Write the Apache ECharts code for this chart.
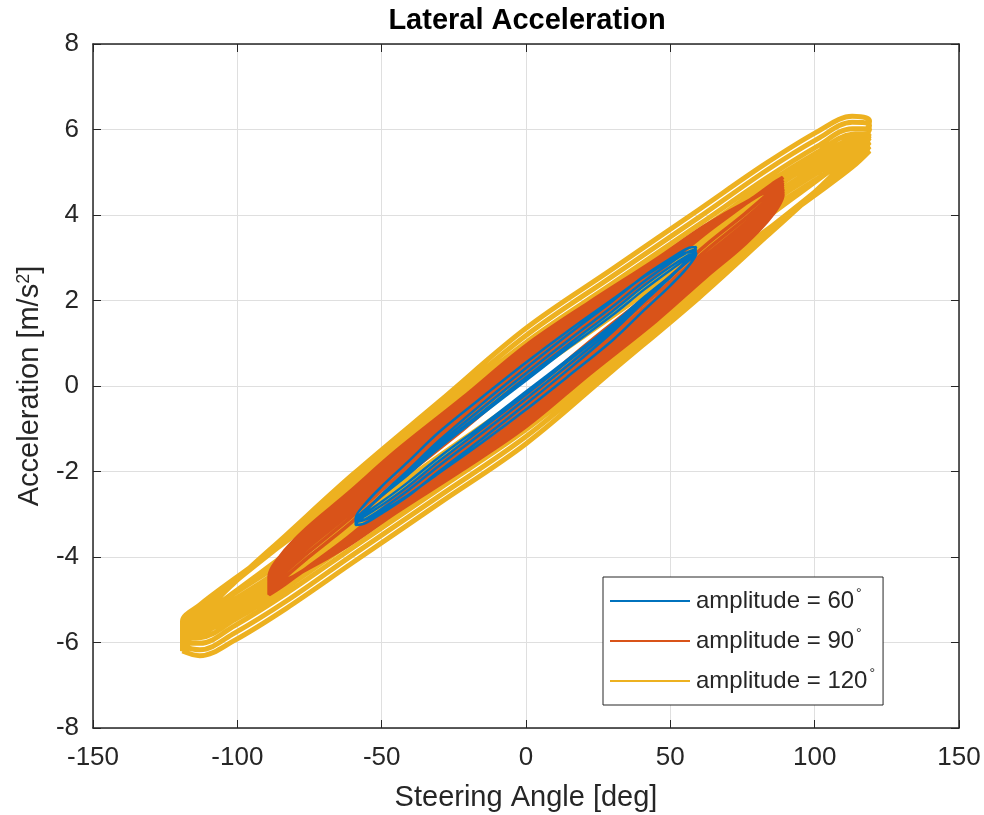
<!DOCTYPE html>
<html>
<head>
<meta charset="utf-8">
<script src="https://cdn.jsdelivr.net/npm/echarts@6/dist/echarts.min.js"></script>
<style>
html,body{margin:0;padding:0;background:#fff;}
#chart{width:984px;height:815px;}
</style>
</head>
<body>
<div id="chart"></div>
<script>
// ---- data ----
const seriesNames = ['amplitude = 60', 'amplitude = 90', 'amplitude = 120'];
const seriesColors = ['#0072BD', '#D95319', '#EDB120'];

// amplitude 120: steering positions and accel of each loop (upper / lower branch)
const amp120X = [-119, -113, -101, -83, -60, -30, 0, 30, 60, 83, 101, 113, 119];
const amp120Upper = [
  [-6.2, -5.47, -4.59, -3.48, -2.07, -0.36, 1.35, 2.74, 4.13, 5.20, 5.95, 6.31, 6.2],
  [-6.1, -5.43, -4.60, -3.51, -2.15, -0.49, 1.18, 2.57, 3.95, 5.03, 5.78, 6.17, 6.1],
  [-6.0, -5.38, -4.59, -3.55, -2.22, -0.60, 1.02, 2.40, 3.78, 4.85, 5.61, 6.02, 6.0],
  [-5.9, -5.33, -4.57, -3.55, -2.27, -0.69, 0.9, 2.27, 3.63, 4.71, 5.47, 5.89, 5.9],
  [-5.85, -5.32, -4.58, -3.60, -2.34, -0.77, 0.78, 2.15, 3.52, 4.60, 5.36, 5.80, 5.85],
  [-5.8, -5.30, -4.59, -3.62, -2.38, -0.85, 0.68, 2.05, 3.42, 4.50, 5.27, 5.72, 5.8],
  [-5.7, -5.24, -4.56, -3.62, -2.41, -0.92, 0.58, 1.94, 3.29, 4.36, 5.14, 5.60, 5.7],
  [-5.6, -5.18, -4.53, -3.63, -2.45, -1.00, 0.46, 1.80, 3.15, 4.21, 4.99, 5.46, 5.6],
  [-5.5, -5.12, -4.51, -3.63, -2.49, -1.08, 0.34, 1.68, 3.01, 4.07, 4.85, 5.34, 5.5],
  [-5.8, -5.44, -4.82, -3.92, -2.73, -1.26, 0.22, 1.64, 3.07, 4.20, 5.04, 5.58, 5.8]
];
const amp120Lower = [
  [-6.2, -6.31, -5.95, -5.20, -4.13, -2.74, -1.35, 0.36, 2.07, 3.48, 4.59, 5.47, 6.2],
  [-6.1, -6.17, -5.78, -5.03, -3.95, -2.57, -1.18, 0.49, 2.15, 3.51, 4.60, 5.43, 6.1],
  [-6.0, -6.02, -5.61, -4.85, -3.78, -2.40, -1.02, 0.60, 2.22, 3.55, 4.59, 5.38, 6.0],
  [-5.9, -5.89, -5.47, -4.71, -3.63, -2.27, -0.9, 0.69, 2.27, 3.55, 4.57, 5.33, 5.9],
  [-5.85, -5.80, -5.36, -4.60, -3.52, -2.15, -0.78, 0.77, 2.34, 3.60, 4.58, 5.32, 5.85],
  [-5.8, -5.72, -5.27, -4.50, -3.42, -2.05, -0.68, 0.85, 2.38, 3.62, 4.59, 5.30, 5.8],
  [-5.7, -5.60, -5.14, -4.36, -3.29, -1.94, -0.58, 0.92, 2.41, 3.62, 4.56, 5.24, 5.7],
  [-5.6, -5.46, -4.99, -4.21, -3.15, -1.80, -0.46, 1.00, 2.45, 3.63, 4.53, 5.18, 5.6],
  [-5.5, -5.34, -4.85, -4.07, -3.01, -1.68, -0.34, 1.08, 2.49, 3.63, 4.51, 5.12, 5.5],
  [-5.8, -5.58, -5.04, -4.20, -3.07, -1.64, -0.22, 1.26, 2.73, 3.92, 4.82, 5.44, 5.8]
];

// amplitude 90
const amp90X = [-89, -85, -76, -62, -45, -22, 0, 22, 45, 62, 76, 85, 89];
const amp90Upper = [
  [-4.48, -3.97, -3.33, -2.53, -1.52, -0.28, 0.95, 1.96, 2.96, 3.75, 4.29, 4.55, 4.48],
  [-4.53, -4.03, -3.42, -2.62, -1.62, -0.37, 0.86, 1.89, 2.92, 3.72, 4.28, 4.57, 4.53],
  [-4.58, -4.11, -3.50, -2.72, -1.70, -0.47, 0.77, 1.83, 2.88, 3.70, 4.28, 4.59, 4.58],
  [-4.62, -4.18, -3.58, -2.79, -1.79, -0.55, 0.69, 1.77, 2.83, 3.67, 4.28, 4.60, 4.62],
  [-4.66, -4.24, -3.65, -2.87, -1.87, -0.63, 0.61, 1.71, 2.79, 3.65, 4.27, 4.62, 4.66],
  [-4.71, -4.31, -3.73, -2.96, -1.96, -0.71, 0.53, 1.65, 2.76, 3.64, 4.27, 4.63, 4.71],
  [-4.75, -4.37, -3.81, -3.04, -2.04, -0.79, 0.45, 1.59, 2.72, 3.62, 4.27, 4.65, 4.75],
  [-4.81, -4.46, -3.92, -3.15, -2.15, -0.90, 0.34, 1.50, 2.67, 3.59, 4.26, 4.68, 4.81],
  [-4.88, -4.57, -4.04, -3.28, -2.27, -1.03, 0.22, 1.41, 2.61, 3.56, 4.26, 4.71, 4.88]
];
const amp90Lower = [
  [-4.48, -4.55, -4.29, -3.75, -2.96, -1.96, -0.95, 0.28, 1.52, 2.53, 3.33, 3.97, 4.48],
  [-4.53, -4.57, -4.28, -3.72, -2.92, -1.89, -0.86, 0.37, 1.62, 2.62, 3.42, 4.03, 4.53],
  [-4.58, -4.59, -4.28, -3.70, -2.88, -1.83, -0.77, 0.47, 1.70, 2.72, 3.50, 4.11, 4.58],
  [-4.62, -4.60, -4.28, -3.67, -2.83, -1.77, -0.69, 0.55, 1.79, 2.79, 3.58, 4.18, 4.62],
  [-4.66, -4.62, -4.27, -3.65, -2.79, -1.71, -0.61, 0.63, 1.87, 2.87, 3.65, 4.24, 4.66],
  [-4.71, -4.63, -4.27, -3.64, -2.76, -1.65, -0.53, 0.71, 1.96, 2.96, 3.73, 4.31, 4.71],
  [-4.75, -4.65, -4.27, -3.62, -2.72, -1.59, -0.45, 0.79, 2.04, 3.04, 3.81, 4.37, 4.75],
  [-4.81, -4.68, -4.26, -3.59, -2.67, -1.50, -0.34, 0.90, 2.15, 3.15, 3.92, 4.46, 4.81],
  [-4.88, -4.71, -4.26, -3.56, -2.61, -1.41, -0.22, 1.03, 2.27, 3.28, 4.04, 4.57, 4.88]
];

// amplitude 60
const amp60X = [-59, -56, -50, -41, -30, -15, 0, 15, 30, 41, 50, 56, 59];
const amp60Upper = [
  [-3.1, -2.78, -2.35, -1.78, -1.07, -0.25, 0.55, 1.31, 2.03, 2.56, 2.93, 3.12, 3.1],
  [-3.25, -2.96, -2.54, -1.98, -1.27, -0.40, 0.42, 1.22, 1.99, 2.58, 2.98, 3.22, 3.25],
  [-3.2, -2.95, -2.56, -2.03, -1.34, -0.51, 0.3, 1.09, 1.86, 2.45, 2.88, 3.13, 3.2],
  [-3.15, -2.93, -2.57, -2.07, -1.41, -0.60, 0.2, 0.98, 1.75, 2.35, 2.79, 3.05, 3.15],
  [-3.1, -2.91, -2.57, -2.08, -1.44, -0.65, 0.13, 0.91, 1.66, 2.26, 2.71, 2.99, 3.1]
];
const amp60Lower = [
  [-3.1, -3.12, -2.93, -2.56, -2.03, -1.31, -0.55, 0.25, 1.07, 1.78, 2.35, 2.78, 3.1],
  [-3.25, -3.22, -2.98, -2.58, -1.99, -1.22, -0.42, 0.40, 1.27, 1.98, 2.54, 2.96, 3.25],
  [-3.2, -3.13, -2.88, -2.45, -1.86, -1.09, -0.3, 0.51, 1.34, 2.03, 2.56, 2.95, 3.2],
  [-3.15, -3.05, -2.79, -2.35, -1.75, -0.98, -0.2, 0.60, 1.41, 2.07, 2.57, 2.93, 3.15],
  [-3.1, -2.99, -2.71, -2.26, -1.66, -0.91, -0.13, 0.65, 1.44, 2.08, 2.57, 2.91, 3.1]
];

const xAxisRange = [-150, 150, 50];
const yAxisRange = [-8, 8, 2];

// ---- build the trajectories (lower branch left->right, upper branch right->left) ----
function buildPath(xs, uppers, lowers) {
  const pts = [];
  for (let k = 0; k < uppers.length; k++) {
    for (let i = 0; i < xs.length; i++) pts.push([xs[i], lowers[k][i]]);
    for (let i = xs.length - 1; i >= 0; i--) pts.push([xs[i], uppers[k][i]]);
  }
  return pts;
}

const FONT = '"Liberation Sans", Arial, Helvetica, sans-serif';
const AX = '#262626';
const chart = echarts.init(document.getElementById('chart'), null, {renderer: 'canvas'});

function frameAxis(pos, range, showLabel) {
  return {
    type: 'value', position: pos,
    min: range[0], max: range[1], interval: range[2],
    axisLine: {show: true, onZero: false, lineStyle: {color: AX, width: 1.5}},
    axisTick: {show: true, inside: true, length: 8, lineStyle: {color: AX, width: 1}},
    axisLabel: {show: showLabel},
    splitLine: {show: false}
  };
}

const xMain = frameAxis('bottom', xAxisRange, true);
Object.assign(xMain, {
  name: 'Steering Angle [deg]', nameLocation: 'middle', nameGap: 55,
  nameTextStyle: {fontFamily: FONT, fontSize: 29, color: AX},
  axisLabel: {show: true, margin: 17, fontFamily: FONT, fontSize: 26, color: AX},
  splitLine: {show: true, lineStyle: {color: '#dfdfdf', width: 1}}
});
const yMain = frameAxis('left', yAxisRange, true);
Object.assign(yMain, {
  name: 'Acceleration [m/s{sup|2}]', nameLocation: 'middle', nameGap: 42, nameRotate: 90,
  nameTextStyle: {fontFamily: FONT, fontSize: 29, color: AX,
    rich: {sup: {fontFamily: FONT, fontSize: 18, color: AX, verticalAlign: 'top', padding: [0, 0, 12, 0]}}},
  axisLabel: {show: true, margin: 14, fontFamily: FONT, fontSize: 26, color: AX},
  splitLine: {show: true, lineStyle: {color: '#dfdfdf', width: 1}}
});

const paths = [
  buildPath(amp60X, amp60Upper, amp60Lower),
  buildPath(amp90X, amp90Upper, amp90Lower),
  buildPath(amp120X, amp120Upper, amp120Lower)
];
const widths = [2.5, 3.6, 5];
const series = [2, 1, 0].map(i => ({
  name: seriesNames[i], type: 'line', data: paths[i],
  xAxisIndex: 0, yAxisIndex: 0,
  showSymbol: false, symbol: 'none', smooth: 0.35,
  lineStyle: {color: seriesColors[i], width: widths[i]},
  itemStyle: {color: seriesColors[i]},
  animation: false
}));

chart.setOption({
  animation: false,
  backgroundColor: '#ffffff',
  title: {
    text: 'Lateral Acceleration', left: 522, top: 1, textAlign: 'center',
    textStyle: {fontFamily: FONT, fontSize: 29, fontWeight: 'bold', color: '#000'}
  },
  grid: {left: 93, right: 25, top: 44, bottom: 87, containLabel: false, outerBoundsMode: 'none'},
  xAxis: [xMain, frameAxis('top', xAxisRange, false)],
  yAxis: [yMain, frameAxis('right', yAxisRange, false)],
  legend: {
    data: seriesNames, orient: 'vertical', left: 603, top: 577,
    padding: [10, 8, 10, 7], itemGap: 12, itemWidth: 80, itemHeight: 2, icon: 'rect',
    backgroundColor: '#fff', borderColor: AX, borderWidth: 1, borderRadius: 0,
    formatter: n => n + '{d|°}',
    textStyle: {fontFamily: FONT, fontSize: 24, color: AX, lineHeight: 28, padding: [0, 0, 0, 1],
      rich: {d: {fontFamily: FONT, fontSize: 14, color: AX, verticalAlign: 'top', lineHeight: 14, padding: [0, 0, 14, 2]}}}
  },
  series: series
});
</script>
</body>
</html>
